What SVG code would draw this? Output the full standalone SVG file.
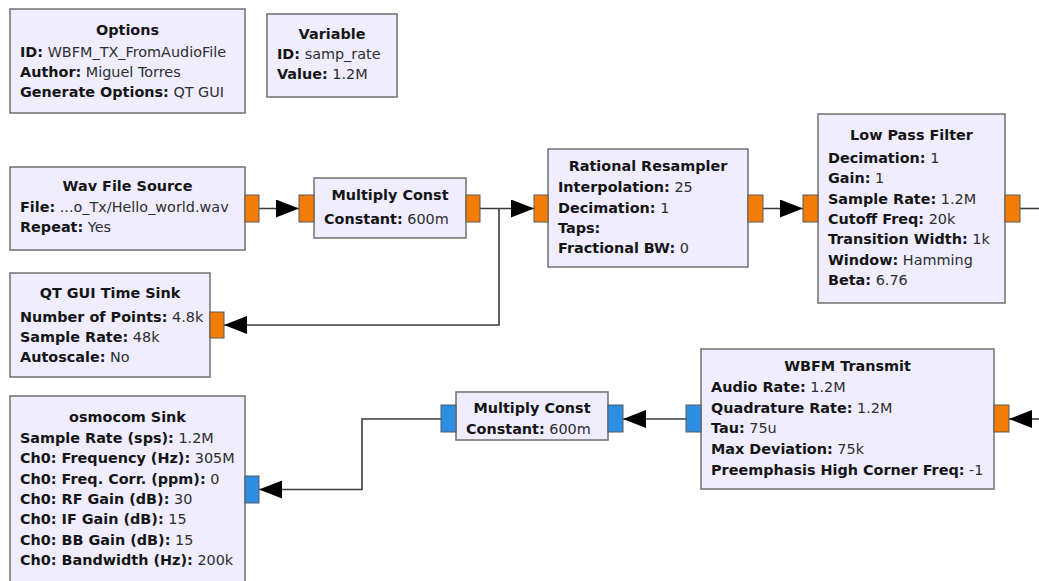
<svg xmlns="http://www.w3.org/2000/svg" width="1039" height="581" viewBox="0 0 1039 581">
  <defs>
    <style>
      .blk { fill: #efedff; stroke: #707070; stroke-width: 1.5; }
      .pf { fill: #f27c05; stroke: #5a5a5a; stroke-width: 1; }
      .pc { fill: #2d8fe3; stroke: #5a5a5a; stroke-width: 1; }
      text { font-family: "DejaVu Sans", "Liberation Sans", sans-serif; font-size: 14.4px; fill: #2e2e2e; }
      .t { font-weight: bold; fill: #151515; text-anchor: middle; }
      .k { font-weight: bold; fill: #151515; }
      .wire { fill: none; stroke: #3c3c3c; stroke-width: 1.6; }
    </style>
    <marker id="arrow" markerUnits="userSpaceOnUse" markerWidth="23" markerHeight="18" refX="23" refY="9" orient="auto">
      <path d="M0,0 L23,9 L0,18 Z" fill="#000"/>
    </marker>
  </defs>
  <rect width="1039" height="581" fill="#ffffff"/>

  <!-- connections -->
  <g id="connectors">
    <path class="wire" d="M259,208.5 H299" marker-end="url(#arrow)"/>
    <path class="wire" d="M480,208.5 H534" marker-end="url(#arrow)"/>
    <path class="wire" d="M499,208.5 V325 H224" marker-end="url(#arrow)"/>
    <path class="wire" d="M763,208.5 H803" marker-end="url(#arrow)"/>
    <path class="wire" d="M1020,208.5 H1039"/>
    <path class="wire" d="M1039,419 H1009" marker-end="url(#arrow)"/>
    <path class="wire" d="M686,419 H623" marker-end="url(#arrow)"/>
    <path class="wire" d="M441,419 H362 V489.5 H259" marker-end="url(#arrow)"/>
  </g>

  <g id="options">
    <rect class="blk" x="10" y="9" width="235" height="104"/>
    <text class="t" x="127.5" y="35">Options</text>
    <text x="20" y="57"><tspan class="k">ID:</tspan> WBFM_TX_FromAudioFile</text>
    <text x="20" y="77"><tspan class="k">Author:</tspan> Miguel Torres</text>
    <text x="20" y="97"><tspan class="k">Generate Options:</tspan> QT GUI</text>
  </g>

  <g id="variable">
    <rect class="blk" x="267" y="14" width="130" height="83"/>
    <text class="t" x="332" y="39">Variable</text>
    <text x="277" y="59"><tspan class="k">ID:</tspan> samp_rate</text>
    <text x="277" y="79"><tspan class="k">Value:</tspan> 1.2M</text>
  </g>

  <g id="wav_file_source">
    <rect class="blk" x="10" y="167" width="235" height="83"/>
    <text class="t" x="127.5" y="191">Wav File Source</text>
    <text x="20" y="212"><tspan class="k">File:</tspan> ...o_Tx/Hello_world.wav</text>
    <text x="20" y="232"><tspan class="k">Repeat:</tspan> Yes</text>
    <rect class="pf" x="245" y="195" width="14" height="27"/>
  </g>

  <g id="multiply_const_0">
    <rect class="blk" x="314" y="178" width="152" height="60"/>
    <text class="t" x="390" y="200">Multiply Const</text>
    <text x="324" y="224"><tspan class="k">Constant:</tspan> 600m</text>
    <rect class="pf" x="299" y="195" width="15" height="27"/>
    <rect class="pf" x="466" y="195" width="14" height="27"/>
  </g>

  <g id="rational_resampler">
    <rect class="blk" x="548" y="149" width="200" height="118"/>
    <text class="t" x="648" y="171">Rational Resampler</text>
    <text x="558" y="192"><tspan class="k">Interpolation:</tspan> 25</text>
    <text x="558" y="213"><tspan class="k">Decimation:</tspan> 1</text>
    <text x="558" y="233"><tspan class="k">Taps:</tspan></text>
    <text x="558" y="253"><tspan class="k">Fractional BW:</tspan> 0</text>
    <rect class="pf" x="534" y="195" width="14" height="27"/>
    <rect class="pf" x="748" y="195" width="15" height="27"/>
  </g>

  <g id="low_pass_filter">
    <rect class="blk" x="818" y="114" width="187" height="189"/>
    <text class="t" x="911.5" y="140">Low Pass Filter</text>
    <text x="828" y="163"><tspan class="k">Decimation:</tspan> 1</text>
    <text x="828" y="183"><tspan class="k">Gain:</tspan> 1</text>
    <text x="828" y="203.5"><tspan class="k">Sample Rate:</tspan> 1.2M</text>
    <text x="828" y="224"><tspan class="k">Cutoff Freq:</tspan> 20k</text>
    <text x="828" y="244"><tspan class="k">Transition Width:</tspan> 1k</text>
    <text x="828" y="264.5"><tspan class="k">Window:</tspan> Hamming</text>
    <text x="828" y="285"><tspan class="k">Beta:</tspan> 6.76</text>
    <rect class="pf" x="803" y="195" width="15" height="27"/>
    <rect class="pf" x="1005" y="195" width="15" height="27"/>
  </g>

  <g id="qt_gui_time_sink">
    <rect class="blk" x="10" y="273" width="200" height="104"/>
    <text class="t" x="110" y="298">QT GUI Time Sink</text>
    <text x="20" y="322"><tspan class="k">Number of Points:</tspan> 4.8k</text>
    <text x="20" y="342"><tspan class="k">Sample Rate:</tspan> 48k</text>
    <text x="20" y="362"><tspan class="k">Autoscale:</tspan> No</text>
    <rect class="pf" x="210" y="312" width="14" height="26"/>
  </g>

  <g id="wbfm_transmit">
    <rect class="blk" x="701" y="349" width="293" height="140"/>
    <text class="t" x="847.5" y="371">WBFM Transmit</text>
    <text x="711" y="392"><tspan class="k">Audio Rate:</tspan> 1.2M</text>
    <text x="711" y="413"><tspan class="k">Quadrature Rate:</tspan> 1.2M</text>
    <text x="711" y="433"><tspan class="k">Tau:</tspan> 75u</text>
    <text x="711" y="454"><tspan class="k">Max Deviation:</tspan> 75k</text>
    <text x="711" y="475"><tspan class="k">Preemphasis High Corner Freq:</tspan> -1</text>
    <rect class="pf" x="994" y="405" width="15" height="27"/>
    <rect class="pc" x="686" y="405" width="15" height="27"/>
  </g>

  <g id="multiply_const_1">
    <rect class="blk" x="456" y="392" width="152" height="48"/>
    <text class="t" x="532" y="413">Multiply Const</text>
    <text x="466" y="434"><tspan class="k">Constant:</tspan> 600m</text>
    <rect class="pc" x="441" y="405" width="15" height="27"/>
    <rect class="pc" x="608" y="405" width="15" height="27"/>
  </g>

  <g id="osmocom_sink">
    <rect class="blk" x="10" y="396" width="235" height="194"/>
    <text class="t" x="127.5" y="422">osmocom Sink</text>
    <text x="20" y="443"><tspan class="k">Sample Rate (sps):</tspan> 1.2M</text>
    <text x="20" y="463"><tspan class="k">Ch0: Frequency (Hz):</tspan> 305M</text>
    <text x="20" y="484"><tspan class="k">Ch0: Freq. Corr. (ppm):</tspan> 0</text>
    <text x="20" y="504"><tspan class="k">Ch0: RF Gain (dB):</tspan> 30</text>
    <text x="20" y="524"><tspan class="k">Ch0: IF Gain (dB):</tspan> 15</text>
    <text x="20" y="545"><tspan class="k">Ch0: BB Gain (dB):</tspan> 15</text>
    <text x="20" y="565"><tspan class="k">Ch0: Bandwidth (Hz):</tspan> 200k</text>
    <rect class="pc" x="245" y="476" width="14" height="27"/>
  </g>
</svg>
